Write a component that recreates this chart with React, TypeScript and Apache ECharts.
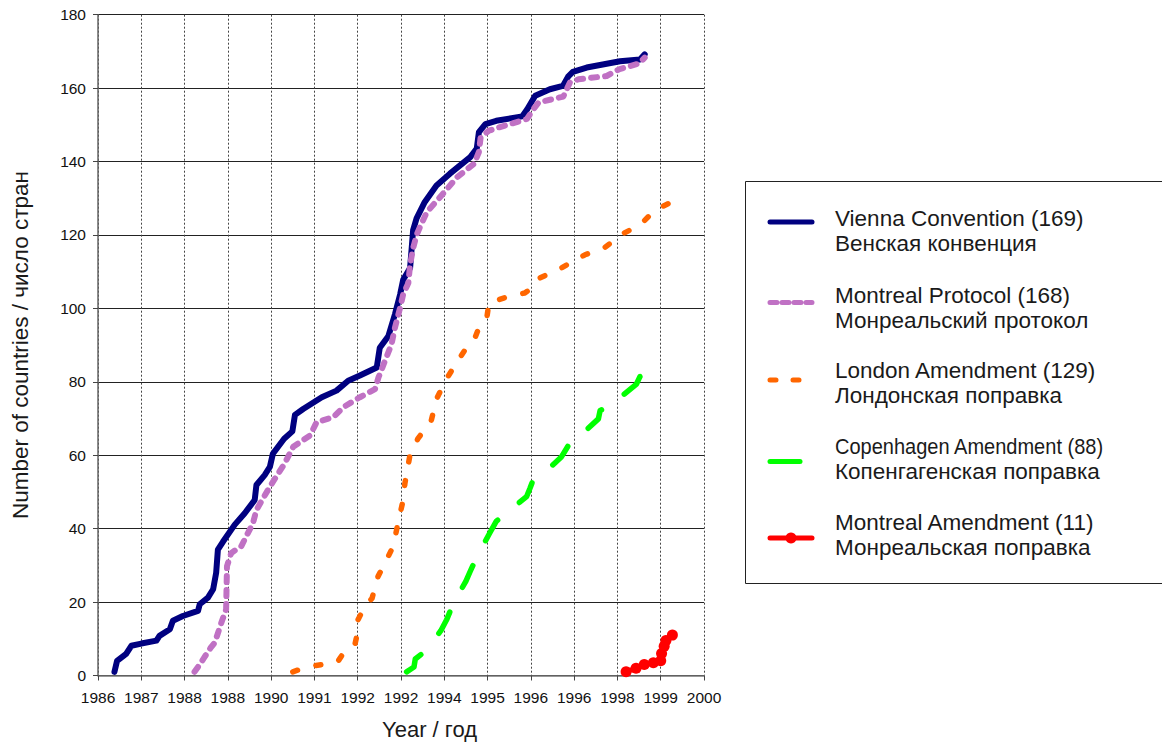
import React, { useEffect, useRef } from "react";
import * as echarts from "echarts";

const xTickLabels = ["1986", "1987", "1988", "1988", "1990", "1991", "1992", "1992", "1994", "1995", "1996", "1996", "1998", "1999", "2000"];

const viennaData: [number, number][] = [
  [1986.38, 1], [1986.44, 4], [1986.65, 5.9], [1986.77, 8.1], [1987.0, 8.7], [1987.35, 9.5],
  [1987.42, 10.8], [1987.66, 12.6], [1987.73, 14.9], [1987.96, 16.2], [1988.31, 17.6], [1988.35, 19.4],
  [1988.54, 21.2], [1988.66, 23.5], [1988.73, 28], [1988.77, 34.3], [1988.89, 36.5], [1989.16, 41.1],
  [1989.39, 44.2], [1989.62, 47.8], [1989.66, 51.9], [1989.85, 54.6], [1989.97, 56.8], [1990.04, 60.4],
  [1990.3, 64.5], [1990.49, 66.5], [1990.55, 71], [1990.74, 72.6], [1991.17, 75.8], [1991.51, 77.6],
  [1991.78, 80.3], [1992.05, 81.7], [1992.44, 83.9], [1992.51, 89.3], [1992.71, 92.5], [1992.86, 98.4],
  [1992.98, 103.8], [1993.05, 107.8], [1993.21, 111], [1993.28, 121.3], [1993.36, 124.5], [1993.55, 129],
  [1993.82, 133.5], [1994.13, 136.7], [1994.6, 141.2], [1994.75, 143.5], [1994.8, 148], [1994.95, 150.2],
  [1995.2, 151.1], [1995.8, 152.3], [1995.92, 154.3], [1996.1, 157.9], [1996.44, 159.7], [1996.74, 160.6],
  [1996.86, 163.1], [1996.97, 164.4], [1997.29, 165.6], [1998.06, 167.3], [1998.52, 167.8], [1998.63, 169.2],
];

const montrealProtocolData: [number, number][] = [
  [1988.23, 1], [1988.35, 3], [1988.46, 5], [1988.6, 7.5], [1988.7, 9], [1988.85, 14.4], [1988.96, 18],
  [1988.97, 24], [1988.98, 29.8], [1989.08, 33.4], [1989.31, 35.2], [1989.45, 38.5], [1989.58, 41.5],
  [1989.66, 45.1], [1989.85, 49], [1990.0, 52], [1990.31, 57.7], [1990.51, 62.3], [1990.9, 65.4],
  [1991.05, 69], [1991.44, 70.4], [1991.67, 73.1], [1992.05, 75.8], [1992.4, 78], [1992.48, 81.2],
  [1992.63, 85.7], [1992.78, 90.2], [1992.86, 94.7], [1992.98, 100.2], [1993.05, 103.8], [1993.17, 106.9],
  [1993.21, 111.9], [1993.28, 116.4], [1993.36, 120], [1993.45, 122.5], [1993.6, 126.3], [1993.88, 130],
  [1994.3, 135.8], [1994.69, 139.4], [1994.8, 142.6], [1994.84, 146.6], [1995.03, 148.4], [1995.26, 149.3],
  [1995.91, 151.6], [1996.03, 153.8], [1996.18, 156.1], [1996.75, 157.7], [1996.83, 159.7], [1996.9, 161.5],
  [1997.1, 162.4], [1997.75, 163.3], [1998.05, 165.2], [1998.5, 166.7], [1998.63, 168.3],
];

const londonData: [number, number][] = [
  [1990.5, 1], [1990.75, 2], [1991.01, 2.7], [1991.2, 3], [1991.54, 3.8], [1991.63, 5.4], [1991.82, 6.8],
  [1991.94, 8.7], [1991.98, 10.8], [1992.0, 15], [1992.17, 19], [1992.33, 21], [1992.47, 27], [1992.63, 30.6],
  [1992.82, 35.2], [1992.93, 41.5], [1993.05, 47.8], [1993.09, 52.3], [1993.2, 59.6], [1993.39, 64.5],
  [1993.7, 69.5], [1993.82, 75.3], [1994.05, 80.8], [1994.36, 86.6], [1994.55, 89.9], [1994.71, 92],
  [1994.82, 95.3], [1994.99, 98], [1995.03, 101.5], [1995.52, 103.4], [1995.86, 104.2], [1996.03, 105.6],
  [1996.21, 108.3], [1996.7, 111], [1997.25, 114.6], [1997.71, 116.6], [1998.1, 120.2], [1998.52, 122.7],
  [1998.87, 126.8], [1999.33, 129.4],
];

const copenhagenData: [number, number][] = [
  [1993.13, 1], [1993.3, 2.3], [1993.33, 4.5], [1993.58, 6.8], [1993.92, 12.2], [1994.06, 15.3],
  [1994.21, 19.7], [1994.5, 25.7], [1994.6, 28.4], [1994.76, 32.5], [1995.05, 38.8], [1995.2, 42],
  [1995.48, 44.7], [1995.9, 48.7], [1995.98, 51], [1996.05, 53.2], [1996.29, 55], [1996.71, 59.6],
  [1996.94, 64.1], [1997.13, 65.2], [1997.56, 69.9], [1997.6, 72.2], [1997.83, 73.3], [1998.0, 75.1],
  [1998.44, 79.4], [1998.52, 81.4], [1998.81, 82.6], [1998.87, 84.7],
];

const montrealAmendmentData: [number, number][] = [
  [1998.2, 1], [1998.43, 2], [1998.62, 3], [1998.83, 3.5], [1999.0, 4], [1999.02, 6],
  [1999.08, 8], [1999.12, 9.5], [1999.27, 11],
];

const seriesNames = [
  "Vienna Convention (169)",
  "Montreal Protocol (168)",
  "London Amendment (129)",
  "Copenhagen Amendment (88)",
  "Montreal Amendment (11)",
];
const seriesNamesRu = [
  "Венская конвенция",
  "Монреальский протокол",
  "Лондонская поправка",
  "Копенгагенская поправка",
  "Монреальская поправка",
];
const seriesColors = ["#000080", "#C071C4", "#FF6600", "#00FF00", "#FF0000"];

const FONT = '"Liberation Sans", Arial, Helvetica, sans-serif';

export default function App() {
  const ref = useRef<HTMLDivElement | null>(null);

  useEffect(() => {
    if (!ref.current) return;
    const chart = echarts.init(ref.current, null, { renderer: "svg" });

    const legendLineY = [222, 302.5, 380, 461.5, 538];
    const legendText1Y = [218.5, 295, 370.5, 446.5, 522.5];
    const legendGap = 25;
    const lx0 = 768;
    const lx1 = 814;
    const tx = 835;

    const legendEls: any[] = [];
    legendEls.push({
      type: "rect",
      shape: { x: 745.5, y: 181.5, width: 440, height: 402 },
      style: { fill: "#fff", stroke: "#222", lineWidth: 1 },
      z: 10,
    });
    const sampleStyles = [
      { lineDash: null, x1: lx1 },
      { lineDash: [7, 5], x1: lx1 },
      { lineDash: [6, 17], x1: 803 },
      { lineDash: null, x1: 802 },
      { lineDash: null, x1: lx1 },
    ];
    for (let i = 0; i < 5; i++) {
      const s = sampleStyles[i];
      legendEls.push({
        type: "line",
        shape: { x1: lx0 + 2, y1: legendLineY[i], x2: s.x1 - 2, y2: legendLineY[i] },
        style: {
          stroke: seriesColors[i],
          lineWidth: 5,
          lineCap: "round",
          lineDash: s.lineDash || undefined,
        },
        z: 11,
      });
      if (i === 4) {
        legendEls.push({
          type: "circle",
          shape: { cx: 791, cy: legendLineY[i], r: 5.5 },
          style: { fill: seriesColors[i] },
          z: 12,
        });
      }
      legendEls.push({
        type: "text",
        x: tx,
        y: legendText1Y[i],
        scaleX: i === 3 ? 0.89 : 1,
        style: {
          text: seriesNames[i],
          fill: "#1a1a1a",
          fontSize: 22.5,
          fontFamily: FONT,
          verticalAlign: "middle",
          align: "left",
        },
        z: 12,
      });
      legendEls.push({
        type: "text",
        x: tx,
        y: legendText1Y[i] + legendGap,
        style: {
          text: seriesNamesRu[i],
          fill: "#1a1a1a",
          fontSize: 22.5,
          fontFamily: FONT,
          verticalAlign: "middle",
          align: "left",
        },
        z: 12,
      });
    }

    const lineSeries = (name: string, data: [number, number][], color: string, width: number, dash: any) => ({
      type: "line",
      name,
      data,
      symbol: "none",
      showSymbol: false,
      lineStyle: { color, width, type: dash, cap: "round", join: "round" },
      z: 3,
    });

    chart.setOption({
      animation: false,
      backgroundColor: "#ffffff",
      textStyle: { fontFamily: FONT },
      grid: { left: 98, right: 458, top: 14.7, bottom: 65.5, containLabel: false },
      xAxis: {
        type: "value",
        min: 1986,
        max: 2000,
        interval: 1,
        name: "Year / год",
        nameLocation: "middle",
        nameGap: 42.5,
        nameTextStyle: { fontSize: 22, color: "#1a1a1a", fontFamily: FONT, padding: [0, 0, 0, 57] },
        axisLine: { show: true, lineStyle: { color: "#777", width: 1.5 } },
        axisTick: { show: true, length: 5, inside: false, lineStyle: { color: "#444" } },
        axisLabel: {
          show: true,
          margin: 14,
          fontSize: 15.5,
          color: "#111",
          fontFamily: FONT,
          showMinLabel: true,
          showMaxLabel: true,
          formatter: (v: number) => xTickLabels[Math.round(v - 1986)] ?? "",
        },
        splitLine: { show: true, lineStyle: { color: "#444", type: [2, 2], width: 1 } },
      },
      yAxis: {
        type: "value",
        min: 0,
        max: 180,
        interval: 20,
        name: "Number of countries / число стран",
        nameLocation: "middle",
        nameGap: 66,
        nameTextStyle: { fontSize: 22.5, color: "#1a1a1a", fontFamily: FONT },
        axisLine: { show: true, lineStyle: { color: "#666", width: 1.5 } },
        axisTick: { show: true, length: 5, inside: false, lineStyle: { color: "#444" } },
        axisLabel: { margin: 12, fontSize: 15.5, color: "#111", fontFamily: FONT },
        splitLine: { show: true, lineStyle: { color: "#222", width: 1 } },
      },
      series: [
        lineSeries(seriesNames[0], viennaData, seriesColors[0], 6, "solid"),
        lineSeries(seriesNames[1], montrealProtocolData, seriesColors[1], 6, [6, 8]),
        lineSeries(seriesNames[2], londonData, seriesColors[2], 5.5, [5, 19]),
        lineSeries(seriesNames[3], copenhagenData, seriesColors[3], 5.5, [24, 28]),
        {
          type: "line",
          name: seriesNames[4],
          data: montrealAmendmentData,
          symbol: "circle",
          symbolSize: 11,
          showSymbol: true,
          itemStyle: { color: seriesColors[4] },
          lineStyle: { color: seriesColors[4], width: 5, cap: "round", join: "round" },
          z: 4,
        },
      ],
      graphic: legendEls,
    });

    return () => {
      chart.dispose();
    };
  }, []);

  return (
    <div
      ref={ref}
      style={{ position: "fixed", left: 0, top: 0, width: 1162, height: 745, background: "#fff" }}
    />
  );
}
